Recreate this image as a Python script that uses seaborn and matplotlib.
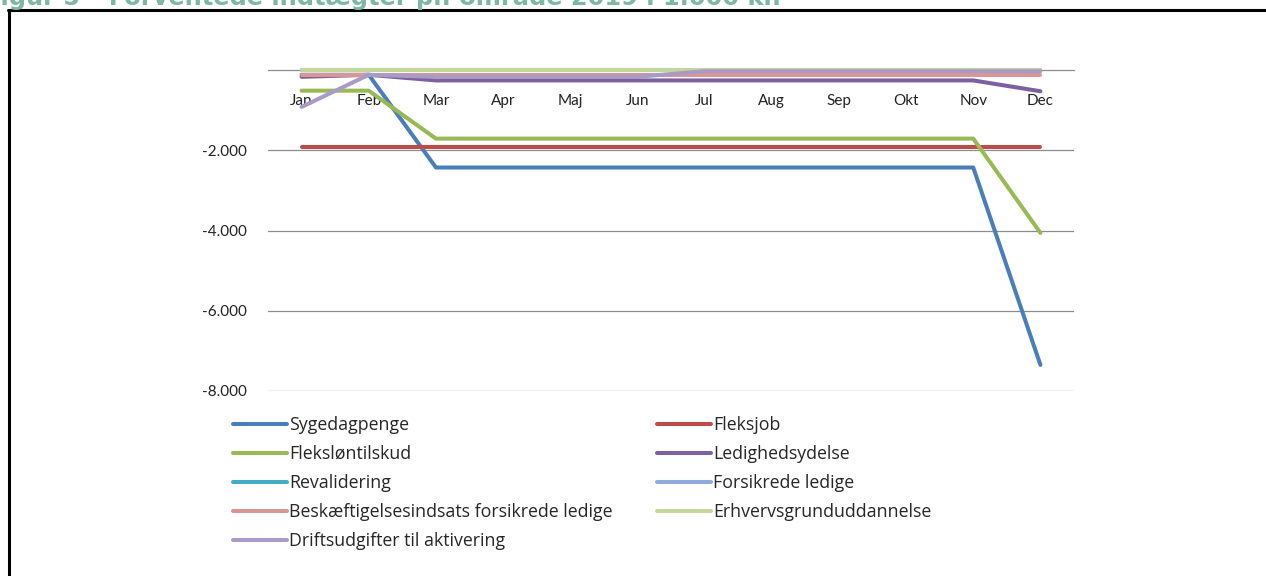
import matplotlib
matplotlib.use("Agg")
import matplotlib.pyplot as plt
import seaborn as sns
import pandas as pd
from matplotlib.lines import Line2D
from matplotlib.ticker import FuncFormatter

# values in 1.000 kr.
months = ["Jan", "Feb", "Mar", "Apr", "Maj", "Jun", "Jul", "Aug", "Sep", "Okt", "Nov", "Dec"]

sygedagpenge = [-120, -120, -2430, -2430, -2430, -2430, -2430, -2430, -2430, -2430, -2430, -7350]
fleksjob = [-1910, -1910, -1910, -1910, -1910, -1910, -1910, -1910, -1910, -1910, -1910, -1910]
flekslontilskud = [-515, -515, -1710, -1710, -1710, -1710, -1710, -1710, -1710, -1710, -1710, -4060]
ledighedsydelse = [-170, -120, -260, -260, -260, -260, -260, -260, -260, -260, -260, -530]
revalidering = [0, 0, 0, 0, 0, 0, 0, 0, 0, 0, 0, 0]
forsikrede_ledige = [0, 0, 0, 0, 0, 0, 0, 0, 0, 0, 0, 0]
beskaeftigelsesindsats = [-130, -130, -130, -130, -130, -130, -130, -130, -130, -130, -130, -130]
erhvervsgrunduddannelse = [0, 0, 0, 0, 0, 0, 0, 0, 0, 0, 0, 0]
driftsudgifter = [-920, -120, -170, -170, -170, -170, -30, -30, -30, -30, -30, -30]

series_names = [
    "Sygedagpenge", "Fleksjob", "Fleksløntilskud", "Ledighedsydelse", "Revalidering",
    "Forsikrede ledige", "Beskæftigelsesindsats forsikrede ledige",
    "Erhvervsgrunduddannelse", "Driftsudgifter til aktivering",
]
series_values = [
    sygedagpenge, fleksjob, flekslontilskud, ledighedsydelse, revalidering,
    forsikrede_ledige, beskaeftigelsesindsats, erhvervsgrunduddannelse, driftsudgifter,
]
colors = ["#4A7EBB", "#BE4B48", "#98B954", "#7D60A0", "#46AAC5",
          "#8FAADC", "#DA9694", "#C3D69B", "#A99BC6"]

palette = dict(zip(series_names, colors))

rows = []
for name, vals in zip(series_names, series_values):
    for i, v in enumerate(vals):
        rows.append({"serie": name, "pos": i, "value": v})
df = pd.DataFrame(rows)

sns.set_style("white")
plt.rcParams["font.family"] = ["Lato", "DejaVu Sans"]

fig = plt.figure(figsize=(12.66, 5.76), dpi=100)
ax = fig.add_axes([268 / 1266, 1 - 391 / 576, (1074 - 268) / 1266, (391 - 70) / 576])

sns.lineplot(data=df, x="pos", y="value", hue="serie", hue_order=series_names,
             palette=palette, linewidth=2.9, legend=False, sort=False, ax=ax,
             solid_capstyle="round", clip_on=False)

ax.set_xlim(-0.5, 11.5)
ax.set_ylim(-8000, 0)
ax.set_xlabel("")
ax.set_ylabel("")

ax.set_yticks([-8000, -6000, -4000, -2000])
ax.yaxis.set_major_formatter(FuncFormatter(lambda v, p: f"{v:,.0f}".replace(",", ".")))
ax.tick_params(axis="y", length=0, pad=15, labelsize=11, labelcolor="#222222")
ax.yaxis.grid(True, color="#8C8C8C", linewidth=0.9)
ax.set_axisbelow(True)

ax.set_xticks(range(len(months)))
ax.set_xticklabels(months)
ax.set_xticks([-0.5, 11.5], minor=True)
ax.tick_params(axis="x", which="major", length=0, pad=17.5, labelsize=11, labelcolor="#222222")
ax.tick_params(axis="x", which="minor", length=5, width=0.9, color="#8C8C8C", direction="out")

for s in ["left", "right", "top"]:
    ax.spines[s].set_visible(False)
ax.spines["bottom"].set_position(("data", 0))
ax.spines["bottom"].set_color("#8C8C8C")
ax.spines["bottom"].set_linewidth(0.9)
ax.spines["bottom"].set_zorder(0.5)

# legend in two columns, filled row by row like the original
col1 = [0, 2, 4, 6, 8]
col2 = [1, 3, 5, 7]
for idxs, x0 in [(col1, 233), (col2, 657)]:
    handles = [Line2D([], [], color=colors[i], lw=2.9, solid_capstyle="round") for i in idxs]
    labels = [series_names[i] for i in idxs]
    fig.legend(handles, labels, loc="upper left", bbox_to_anchor=(x0 / 1266, 1 - 416 / 576),
               frameon=False, prop={"family": "Open Sans", "size": 12.8},
               handlelength=3.05, handletextpad=0.1,
               labelspacing=0.62, borderpad=0, borderaxespad=0)

# cropped figure caption and frame
fig.text(-16 / 1266, 1 - 5 / 576, "Figur 5 – Forventede indtægter pr. område 2019 i 1.000 kr.",
         fontsize=17.4, fontweight="bold", color="#7DB8A0", family="DejaVu Sans",
         ha="left", va="baseline")
fig.add_artist(Line2D([9 / 1266, 9 / 1266], [0, 1 - 10 / 576], color="black", lw=2.2,
                      transform=fig.transFigure))
fig.add_artist(Line2D([8 / 1266, 1], [1 - 10 / 576, 1 - 10 / 576], color="black", lw=2.2,
                      transform=fig.transFigure))

fig.savefig("out.png", dpi=100)
plt.close(fig)
